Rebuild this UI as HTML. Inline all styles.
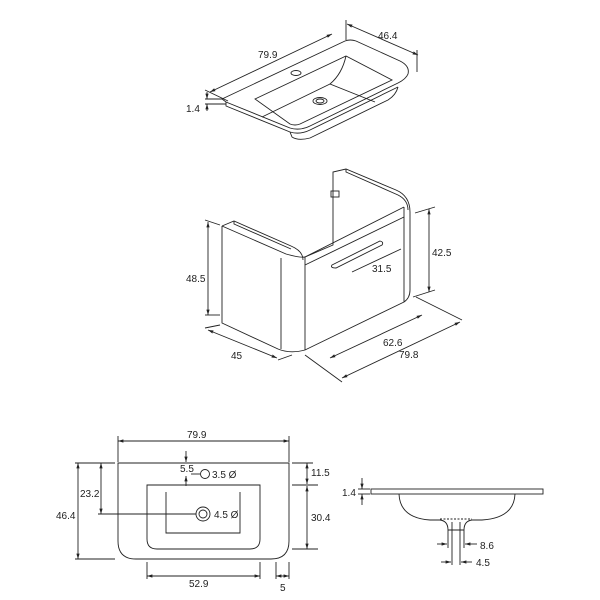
<!DOCTYPE html>
<html><head><style>
html,body{margin:0;padding:0;background:#fff;}
svg{display:block;}
text{font-family:"Liberation Sans",sans-serif;font-size:10px;fill:#222;}
</style></head><body>
<svg width="600" height="600" viewBox="0 0 600 600" xmlns="http://www.w3.org/2000/svg">
<defs>
<marker id="a" viewBox="0 0 10 10" refX="10" refY="5" markerWidth="6" markerHeight="6" orient="auto-start-reverse"><path d="M0,2 L10,5 L0,8z" fill="#222"/></marker>
</defs>
<g fill="none" stroke="#222" stroke-width="0.9">
<!-- TOP SINK -->
<path d="M222,99 L345,41 Q350,39 356,41 L400,61 Q410,66 408,74 Q406,79 398,83 L310,126 Q300,131 290,128 L226,102 Z"/>
<path d="M226,102 L226,106 L290,132 Q300,135 310,130 L398,87"/>
<path d="M290,132 L292,137 Q298,141 310,138 L388,100 Q396,95 398,87"/>
<path d="M255,99 L346,56 L392,80 L300,124 Q295,126 290,124 Z"/>
<path d="M346,56 Q342,74 330,84 L375,102"/>
<path d="M330,84 L262,117"/>
<ellipse cx="296" cy="73" rx="5" ry="2.5"/>
<ellipse cx="320" cy="101" rx="7" ry="3.5"/><ellipse cx="320" cy="101" rx="4" ry="2"/>
<line x1="210" y1="92" x2="332" y2="34" marker-start="url(#a)" marker-end="url(#a)"/>
<line x1="205" y1="90" x2="228" y2="101"/>
<line x1="347" y1="24" x2="418" y2="55" marker-start="url(#a)" marker-end="url(#a)"/>
<line x1="346" y1="20" x2="346" y2="40"/><line x1="417" y1="50" x2="417" y2="72"/>
<line x1="207" y1="92" x2="207" y2="99" marker-end="url(#a)"/><line x1="207" y1="111" x2="207" y2="104" marker-end="url(#a)"/>
<line x1="205" y1="99" x2="222" y2="99"/><line x1="205" y1="104" x2="226" y2="104"/>
<!-- CABINET -->
<path d="M222,226 L222,323 L278,349 Q290,354 305,350 L404,302 Q410,298 410,290 L410,212 Q410,196 396,190 L346,169 L333,172 L333,190"/>
<path d="M222,226 L234,221 L291,246 Q303,251 303,260"/>
<path d="M222,226 L286,254 Q300,258 305,257 L404,207"/>
<path d="M234,221 L234,224 L291,249"/>
<path d="M346,169 L346,172 L398,195 Q408,200 408,210"/>
<path d="M305,257 L305,350"/><path d="M281,258 L281,349"/>
<path d="M305,265 L404,217"/><path d="M404,207 L404,302"/>
<path d="M333,190 L333,245 L305,257"/>
<path d="M332,265 L380,241 Q384,242 382,245 L336,268 Q330,268 332,265Z"/>
<rect x="331" y="191" width="8" height="6"/>
<line x1="352" y1="272" x2="401" y2="249"/>
<line x1="208" y1="222" x2="208" y2="315" marker-start="url(#a)" marker-end="url(#a)"/>
<line x1="205" y1="220" x2="220" y2="225"/><line x1="205" y1="315" x2="220" y2="315"/>
<line x1="429" y1="209" x2="429" y2="292" marker-start="url(#a)" marker-end="url(#a)"/>
<line x1="415" y1="213" x2="435" y2="207"/><line x1="413" y1="297" x2="435" y2="290"/>
<line x1="208" y1="330" x2="277" y2="358" marker-start="url(#a)" marker-end="url(#a)"/>
<line x1="205" y1="328" x2="220" y2="325"/><line x1="278" y1="360" x2="292" y2="355"/>
<line x1="330" y1="358" x2="422" y2="315" marker-start="url(#a)" marker-end="url(#a)"/>
<line x1="342" y1="378" x2="460" y2="322" marker-start="url(#a)" marker-end="url(#a)"/>
<line x1="305" y1="355" x2="342" y2="382"/><line x1="416" y1="297" x2="462" y2="320"/>
<!-- PLAN -->
<line x1="118" y1="441" x2="289" y2="441" marker-start="url(#a)" marker-end="url(#a)"/>
<line x1="118" y1="436" x2="118" y2="462"/><line x1="289" y1="436" x2="289" y2="462"/>
<path d="M118,463 L289,463 L289,541 Q289,559 271,559 L136,559 Q118,559 118,541 Z"/>
<path d="M147,485 L260,485 L260,539 Q260,549 250,549 L157,549 Q147,549 147,539 Z"/>
<path d="M166,492 L166,533 L240,533 L240,492"/>
<circle cx="205" cy="474" r="4.5"/>
<line x1="191" y1="474" x2="200" y2="474"/>
<line x1="186" y1="451" x2="186" y2="462" marker-end="url(#a)"/><line x1="186" y1="486" x2="186" y2="476" marker-end="url(#a)"/>
<circle cx="203" cy="514" r="7"/><circle cx="203" cy="514" r="4"/>
<line x1="98" y1="514" x2="196" y2="514"/>
<line x1="101" y1="463" x2="101" y2="514" marker-start="url(#a)" marker-end="url(#a)"/>
<line x1="78" y1="463" x2="78" y2="559" marker-start="url(#a)" marker-end="url(#a)"/>
<line x1="75" y1="463" x2="115" y2="463"/><line x1="75" y1="559" x2="115" y2="559"/>
<line x1="307" y1="463" x2="307" y2="484" marker-start="url(#a)" marker-end="url(#a)"/>
<line x1="307" y1="486" x2="307" y2="549" marker-start="url(#a)" marker-end="url(#a)"/>
<line x1="292" y1="463" x2="313" y2="463"/><line x1="292" y1="485" x2="318" y2="485"/><line x1="292" y1="549" x2="318" y2="549"/>
<line x1="147" y1="576" x2="260" y2="576" marker-start="url(#a)" marker-end="url(#a)"/>
<line x1="147" y1="562" x2="147" y2="579"/><line x1="260" y1="562" x2="260" y2="579"/>
<line x1="276" y1="562" x2="276" y2="579"/><line x1="289" y1="562" x2="289" y2="579"/>
<line x1="276" y1="576" x2="289" y2="576" marker-start="url(#a)" marker-end="url(#a)"/>
<!-- SECTION -->
<rect x="371" y="489" width="172" height="5"/>
<path d="M399,494 Q400,518 430,520 L440,520 Q448,521 448,530 L448,548"/>
<path d="M515,494 Q514,518 482,520 L472,520 Q464,521 464,530 L464,548"/>
<path d="M440,519 L472,519" stroke-dasharray="2,1.5"/>
<path d="M452,522 L452,565 M460,522 L460,565 M448,530 L464,530"/>
<line x1="362" y1="478" x2="362" y2="489" marker-end="url(#a)"/><line x1="362" y1="505" x2="362" y2="494" marker-end="url(#a)"/>
<line x1="358" y1="489" x2="370" y2="489"/><line x1="358" y1="494" x2="370" y2="494"/>
<line x1="437" y1="544" x2="447" y2="544" marker-end="url(#a)"/><line x1="477" y1="544" x2="465" y2="544" marker-end="url(#a)"/>
<line x1="441" y1="562" x2="451" y2="562" marker-end="url(#a)"/><line x1="472" y1="562" x2="461" y2="562" marker-end="url(#a)"/>
</g>
<text x="258" y="58">79.9</text>
<text x="378" y="39">46.4</text>
<text x="186" y="112">1.4</text>
<text x="186" y="282">48.5</text>
<text x="432" y="256">42.5</text>
<text x="372" y="272">31.5</text>
<text x="231" y="359">45</text>
<text x="383" y="346">62.6</text>
<text x="399" y="358">79.8</text>
<text x="187" y="438">79.9</text>
<text x="180" y="472">5.5</text>
<text x="212" y="478">3.5 Ø</text>
<text x="214" y="518">4.5 Ø</text>
<text x="80" y="497">23.2</text>
<text x="56" y="519">46.4</text>
<text x="311" y="476">11.5</text>
<text x="311" y="521">30.4</text>
<text x="189" y="587">52.9</text>
<text x="280" y="591">5</text>
<text x="342" y="496">1.4</text>
<text x="480" y="549">8.6</text>
<text x="476" y="566">4.5</text>
</svg>
</body></html>
